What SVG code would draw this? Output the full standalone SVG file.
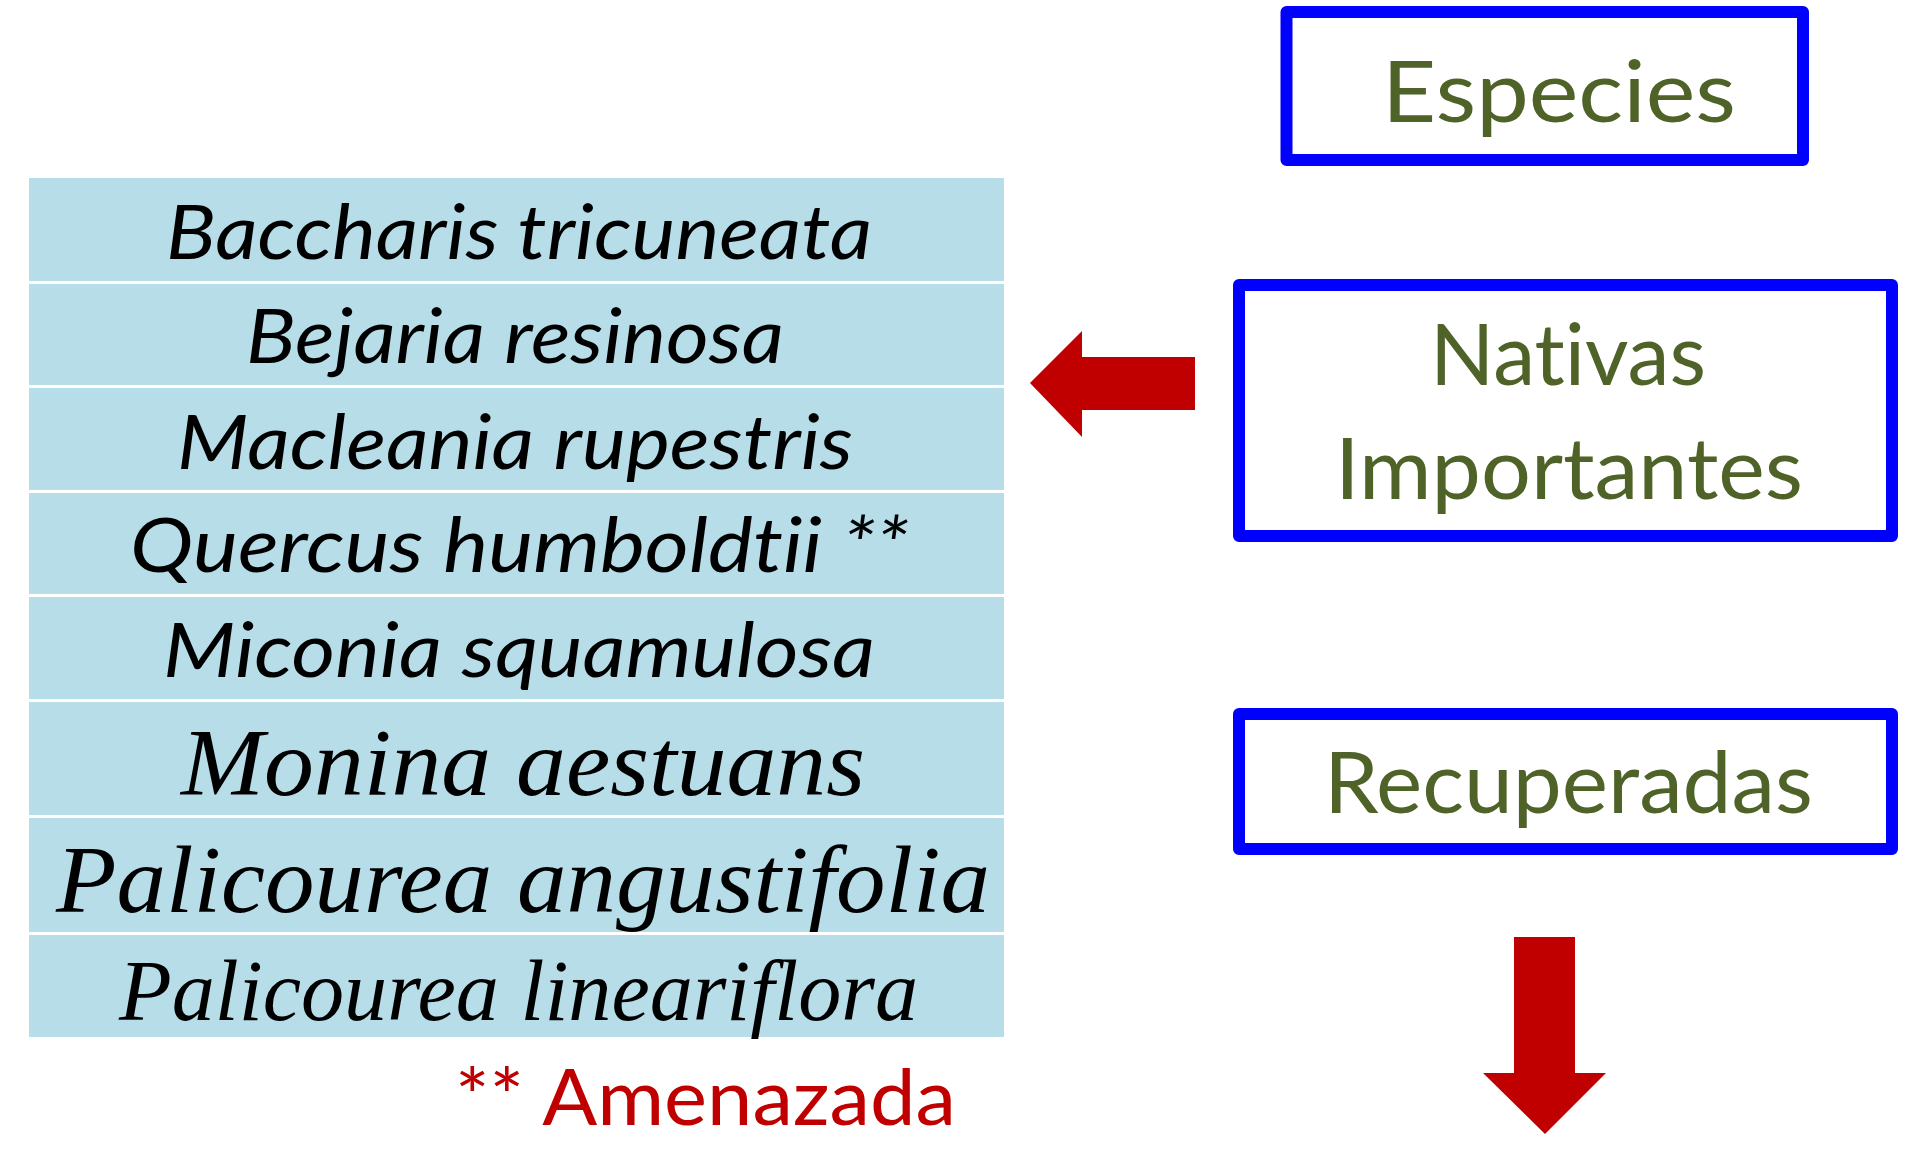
<svg xmlns="http://www.w3.org/2000/svg" width="1928" height="1151" viewBox="0 0 1928 1151">
<style>
text{font-variant-ligatures:none;font-feature-settings:"liga" 0,"clig" 0}
.bg{fill:#FFFFFF}
.row{fill:#B7DDE8}
.sp{font-family:Lato,"Open Sans","Liberation Sans",sans-serif;font-style:italic;font-size:75px;fill:#000000}
.sr{font-family:"Liberation Serif","DejaVu Serif",serif;font-style:italic;fill:#000000}
.box{fill:#FFFFFF;stroke:#0000FF;stroke-width:12;stroke-linejoin:round}
.lbl{font-family:Lato,"Open Sans","Liberation Sans",sans-serif;fill:#4F6228;font-size:85px}
.red{fill:#C00000}
.note{font-family:Lato,"Open Sans","Liberation Sans",sans-serif;fill:#C00000;font-size:77px}
</style>
<rect class="bg" x="0" y="0" width="1928" height="1151"/>
<g id="table">
<g id="row1"><rect class="row" x="29" y="178" width="975" height="103"/><text class="sp" x="166" y="259" textLength="706" lengthAdjust="spacingAndGlyphs">Baccharis tricuneata</text></g>
<g id="row2"><rect class="row" x="29" y="284" width="975" height="101"/><text class="sp" x="246" y="363" textLength="538" lengthAdjust="spacingAndGlyphs">Bejaria resinosa</text></g>
<g id="row3"><rect class="row" x="29" y="388" width="975" height="102"/><text class="sp" x="177" y="469" textLength="676" lengthAdjust="spacingAndGlyphs">Macleania rupestris</text></g>
<g id="row4"><rect class="row" x="29" y="493" width="975" height="101"/><text class="sp" x="130" y="572" textLength="779" lengthAdjust="spacingAndGlyphs">Quercus humboldtii **</text></g>
<g id="row5"><rect class="row" x="29" y="597" width="975" height="102"/><text class="sp" x="163" y="677" textLength="712" lengthAdjust="spacingAndGlyphs">Miconia squamulosa</text></g>
<g id="row6"><rect class="row" x="29" y="702" width="975" height="113"/><text class="sr" x="181" y="795" font-size="95" textLength="684" lengthAdjust="spacingAndGlyphs">Monina aestuans</text></g>
<g id="row7"><rect class="row" x="29" y="818" width="975" height="114"/><text class="sr" x="56" y="912" font-size="96" textLength="934" lengthAdjust="spacingAndGlyphs">Palicourea angustifolia</text></g>
<g id="row8"><rect class="row" x="29" y="935" width="975" height="102"/><text class="sr" x="119" y="1020" font-size="86" textLength="799" lengthAdjust="spacingAndGlyphs">Palicourea lineariflora</text></g>
</g>
<g id="note"><text class="note" x="455" y="1125" textLength="501" lengthAdjust="spacingAndGlyphs">** Amenazada</text></g>
<g id="especies"><rect class="box" x="1286.5" y="12" width="516.5" height="148"/><text class="lbl" x="1382" y="122" font-size="96" textLength="354" lengthAdjust="spacingAndGlyphs">Especies</text></g>
<g id="nativas"><rect class="box" x="1239" y="285" width="653" height="251"/><text class="lbl" x="1430" y="385" textLength="276" lengthAdjust="spacingAndGlyphs">Nativas</text><text class="lbl" x="1335" y="499" textLength="468" lengthAdjust="spacingAndGlyphs">Importantes</text></g>
<g id="recuperadas"><rect class="box" x="1239" y="714" width="653" height="135"/><text class="lbl" x="1324" y="813" textLength="489" lengthAdjust="spacingAndGlyphs">Recuperadas</text></g>
<g id="connectors">
<polygon class="red" points="1030,383 1082,331 1082,357 1195,357 1195,410 1082,410 1082,437"/>
<polygon class="red" points="1514,937 1575,937 1575,1073 1606,1073 1545,1134 1483,1073 1514,1073"/>
</g>
</svg>
